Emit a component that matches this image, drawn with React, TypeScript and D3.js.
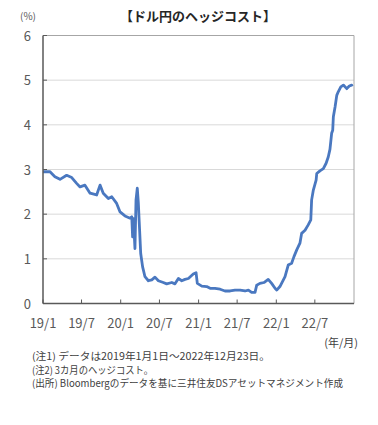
import React from "react";
import * as d3 from "d3";

const dates: string[] = [
  "2019-01-01","2019-02-03","2019-02-26","2019-03-22","2019-04-22","2019-05-16","2019-06-08","2019-06-24",
  "2019-07-17","2019-08-10","2019-09-10","2019-09-26","2019-10-11","2019-11-04","2019-11-20","2019-12-13",
  "2019-12-29","2020-01-21","2020-02-14","2020-02-22","2020-02-26","2020-03-01","2020-03-08","2020-03-13",
  "2020-03-19","2020-03-24","2020-03-28","2020-04-04","2020-04-13","2020-04-24","2020-05-10","2020-05-26",
  "2020-06-10","2020-06-26","2020-07-19","2020-08-04","2020-08-28","2020-09-12","2020-09-28","2020-10-14",
  "2020-10-29","2020-11-14","2020-12-07","2020-12-20","2020-12-26","2021-01-16","2021-02-08","2021-02-24",
  "2021-03-19","2021-04-12","2021-05-05","2021-05-29","2021-06-21","2021-07-15","2021-08-07","2021-08-23",
  "2021-09-07","2021-09-23","2021-10-01","2021-10-16","2021-11-04","2021-11-24","2021-12-10","2021-12-26",
  "2022-01-03","2022-01-18","2022-02-11","2022-02-26","2022-03-14","2022-03-25","2022-04-07","2022-04-22",
  "2022-04-30","2022-05-16","2022-05-31","2022-06-12","2022-06-16","2022-06-24","2022-07-07","2022-07-10",
  "2022-07-25","2022-08-10","2022-08-23","2022-09-02","2022-09-10","2022-09-18","2022-09-23","2022-09-26",
  "2022-10-04","2022-10-12","2022-10-19","2022-10-31","2022-11-12","2022-11-28","2022-12-10","2022-12-21",
  "2022-12-23"
];
const hedgeCost: number[] = [
  2.95,2.95,2.84,2.78,2.87,2.82,2.69,2.61,
  2.65,2.47,2.43,2.65,2.47,2.35,2.39,2.24,
  2.05,1.96,1.91,1.94,1.49,1.9,1.23,2.32,
  2.58,2.24,1.83,1.12,0.82,0.6,0.51,0.53,
  0.59,0.51,0.47,0.44,0.47,0.44,0.56,0.51,
  0.54,0.56,0.66,0.69,0.45,0.39,0.38,0.34,
  0.34,0.32,0.28,0.28,0.3,0.3,0.28,0.3,
  0.25,0.25,0.41,0.45,0.47,0.54,0.45,0.34,
  0.3,0.38,0.6,0.86,0.9,1.05,1.2,1.35,
  1.57,1.64,1.76,1.87,2.32,2.54,2.76,2.91,
  2.97,3.02,3.14,3.28,3.45,3.81,3.88,4.18,
  4.4,4.66,4.74,4.85,4.89,4.81,4.87,4.89,
  4.86
];
const yTicks: number[] = [0, 1, 2, 3, 4, 5, 6];
const xTickDates: string[] = ["2019-01-01","2019-07-01","2020-01-01","2020-07-01","2021-01-01","2021-07-01","2022-01-01","2022-07-01"];
const xTickLabels: string[] = ["19/1","19/7","20/1","20/7","21/1","21/7","22/1","22/7"];
const title = "【ドル円のヘッジコスト】";
const notes: string[] = [
  "(注1) データは2019年1月1日～2022年12月23日。",
  "(注2) 3カ月のヘッジコスト。",
  "(出所) Bloombergのデータを基に三井住友DSアセットマネジメント作成",
];
const noteWidths: number[] = [238, 121, 311];

const W = 378, H = 425;
const L = 43, R = 354, T = 35.5, B = 303.5;
const FONT = "'Noto Sans CJK JP', 'Noto Sans', sans-serif";

export default function App() {
  const parse = d3.timeParse("%Y-%m-%d");
  const data = dates.map((d, i) => ({ date: parse(d) as Date, v: hedgeCost[i] }));
  const x = d3.scaleTime().domain([parse("2019-01-01") as Date, parse("2023-01-01") as Date]).range([L, R]);
  const y = d3.scaleLinear().domain([0, 6]).range([B, T]);
  const line = d3.line<{ date: Date; v: number }>().x(d => x(d.date)).y(d => y(d.v)).curve(d3.curveLinear);
  const ticksX = xTickDates.map(d => parse(d) as Date);

  return (
    <svg width={W} height={H} style={{ position: "absolute", left: 0, top: 0, background: "#fff" }} fontFamily={FONT}>
      <text x={198} y={21} textAnchor="middle" fontSize={13} fontWeight="bold" fill="#262626">{title}</text>
      <text x={28} y={20} textAnchor="middle" fontSize={10} fill="#595959">(%)</text>
      {yTicks.filter(t => t > 0 && t < 6).map(t => (
        <line key={"g" + t} x1={L} x2={R} y1={y(t)} y2={y(t)} stroke="#d9d9d9" strokeWidth={1} />
      ))}
      <line x1={L} x2={R} y1={T} y2={T} stroke="#a6a6a6" strokeWidth={1} />
      <line x1={R} x2={R} y1={T} y2={B} stroke="#a6a6a6" strokeWidth={1} />
      {yTicks.map(t => (
        <g key={"y" + t}>
          <line x1={L} x2={L + 4} y1={y(t)} y2={y(t)} stroke="#595959" />
          <text x={31} y={y(t) + 5} textAnchor="end" fontSize={13} fill="#595959">{t}</text>
        </g>
      ))}
      {ticksX.map((d, i) => (
        <g key={"x" + i}>
          <line x1={x(d)} x2={x(d)} y1={B} y2={B - 4} stroke="#595959" />
          <text x={x(d)} y={328} textAnchor="middle" fontSize={13} fill="#595959">{xTickLabels[i]}</text>
        </g>
      ))}
      <path d={line(data) || ""} fill="none" stroke="#4a78c0" strokeWidth={2.8} strokeLinejoin="round" />
      <line x1={L} x2={L} y1={T} y2={B} stroke="#595959" strokeWidth={1.5} />
      <line x1={L} x2={R} y1={B} y2={B} stroke="#595959" strokeWidth={1.5} />
      <text x={358} y={347} textAnchor="end" fontSize={11} fill="#404040">(年/月)</text>
      {notes.map((n, i) => (
        <text key={"n" + i} x={32} y={360 + i * 13.5} fontSize={10} fill="#404040"
          textLength={noteWidths[i]} lengthAdjust="spacingAndGlyphs">{n}</text>
      ))}
    </svg>
  );
}
